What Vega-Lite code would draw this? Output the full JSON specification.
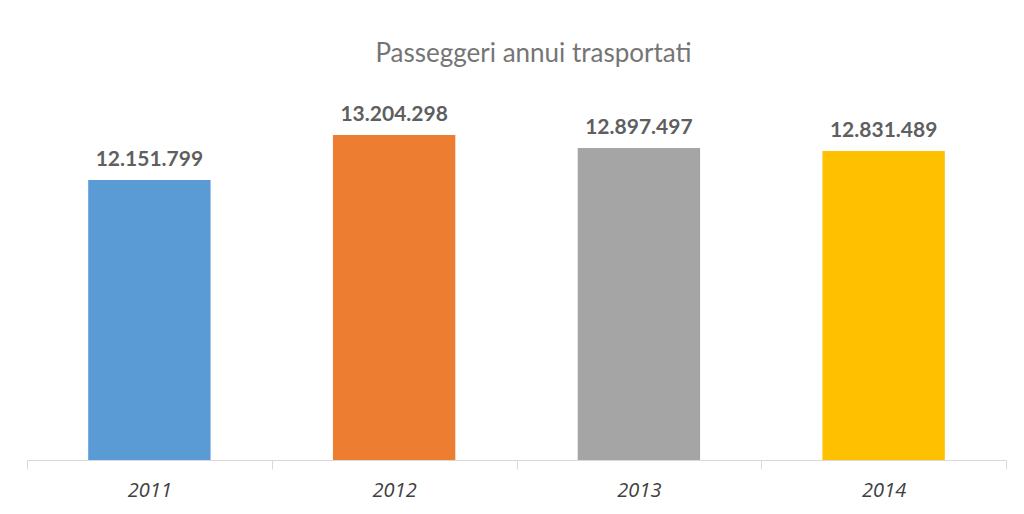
{
  "$schema": "https://vega.github.io/schema/vega-lite/v6.json",
  "autosize": {"type": "none"},
  "width": 979,
  "height": 359,
  "padding": {"left": 27, "top": 101, "right": 18, "bottom": 54},
  "background": "white",
  "config": {
    "view": {"stroke": null},
    "locale": {"number": {"decimal": ",", "thousands": ".", "grouping": [3], "currency": ["€", ""]}}
  },
  "title": {
    "text": "Passeggeri annui trasportati",
    "font": "Lato",
    "fontSize": 26,
    "fontWeight": "normal",
    "color": "#757575",
    "anchor": "middle",
    "baseline": "alphabetic",
    "offset": 13,
    "dx": 17
  },
  "data": {
    "values": [
      {"anno": "2011", "passeggeri": 12151799},
      {"anno": "2012", "passeggeri": 13204298},
      {"anno": "2013", "passeggeri": 12897497},
      {"anno": "2014", "passeggeri": 12831489}
    ]
  },
  "encoding": {
    "x": {
      "field": "anno",
      "type": "nominal",
      "scale": {"paddingInner": 0, "paddingOuter": 0},
      "axis": {
        "title": null,
        "labelAngle": 0,
        "labelFont": "Open Sans",
        "labelFontStyle": "italic",
        "labelFontSize": 20,
        "labelColor": "#404040",
        "labelPadding": 11,
        "domainColor": "#d9d9d9",
        "domainWidth": 1,
        "tickColor": "#d9d9d9",
        "tickSize": 9,
        "tickBand": "extent",
        "grid": false,
        "zindex": 1
      }
    },
    "y": {
      "field": "passeggeri",
      "type": "quantitative",
      "scale": {"domain": [5600000, 14000000], "zero": false},
      "axis": null
    }
  },
  "layer": [
    {
      "mark": {"type": "bar", "clip": true, "width": {"band": 0.5}},
      "encoding": {
        "color": {
          "field": "anno",
          "type": "nominal",
          "scale": {"range": ["#5B9BD5", "#ED7D31", "#A5A5A5", "#FFC000"]},
          "legend": null
        }
      }
    },
    {
      "mark": {"type": "text", "baseline": "bottom", "dy": -10, "font": "Lato", "fontSize": 21, "fontWeight": "bold", "color": "#5f5f5f"},
      "encoding": {
        "text": {"field": "passeggeri", "type": "quantitative", "format": ",d"}
      }
    }
  ]
}
